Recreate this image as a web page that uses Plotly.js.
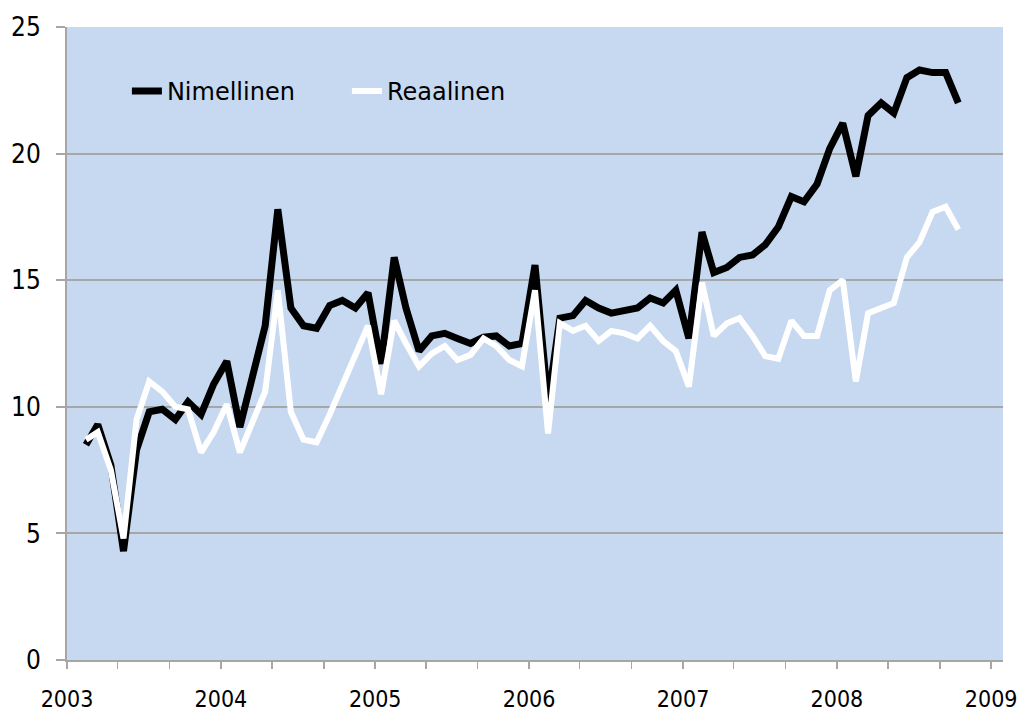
<!DOCTYPE html>
<html>
<head>
<meta charset="utf-8">
<script src="https://cdn.plot.ly/plotly-3.0.1.min.js"></script>
<style>
html,body{margin:0;padding:0;background:#ffffff;}
#chart{width:1025px;height:713px;}
</style>
</head>
<body>
<div id="chart"></div>
<script>
// Monthly observations, Feb 2003 .. Oct 2008
var startYear = 2003, startMonth = 2, nPoints = 69;
var nimellinen = [
  8.5, 9.3, 7.7, 4.3, 8.3, 9.8, 9.9, 9.5, 10.2, 9.7, 10.9,
  11.8, 9.2, 11.2, 13.2, 17.8, 13.9, 13.2, 13.1, 14.0, 14.2, 13.9, 14.5,
  11.7, 15.9, 13.9, 12.2, 12.8, 12.9, 12.7, 12.5, 12.75, 12.8, 12.4, 12.5,
  15.6, 10.2, 13.5, 13.6, 14.2, 13.9, 13.7, 13.8, 13.9, 14.3, 14.1, 14.6,
  12.7, 16.9, 15.3, 15.5, 15.9, 16.0, 16.4, 17.1, 18.3, 18.1, 18.8, 20.2,
  21.2, 19.1, 21.5, 22.0, 21.6, 23.0, 23.3, 23.2, 23.2, 22.0
];
var reaalinen = [
  8.7, 9.0, 7.5, 4.8, 9.5, 11.0, 10.6, 10.0, 9.9, 8.2, 9.0,
  10.1, 8.2, 9.4, 10.6, 14.6, 9.8, 8.7, 8.6, 9.7, 10.9, 12.0, 13.2,
  10.5, 13.4, 12.5, 11.6, 12.1, 12.4, 11.85, 12.05, 12.7, 12.4, 11.85, 11.6,
  14.6, 8.95, 13.3, 13.0, 13.2, 12.6, 13.0, 12.9, 12.7, 13.2, 12.6, 12.2,
  10.8, 14.9, 12.8, 13.3, 13.5, 12.8, 12.0, 11.9, 13.4, 12.8, 12.8, 14.6,
  15.0, 11.0, 13.7, 13.9, 14.1, 15.9, 16.5, 17.7, 17.9, 17.0
];
var yearTicks = ['2003','2004','2005','2006','2007','2008','2009'];
var seriesNames = ['Nimellinen', 'Reaalinen'];

// mid-month dates
var months = [];
for (var k = 0; k < nPoints; k++) {
  var m0 = startMonth - 1 + k;
  var y = startYear + Math.floor(m0 / 12);
  var m = (m0 % 12) + 1;
  months.push(y + '-' + (m < 10 ? '0' + m : m) + '-15');
}

var FONT = '"DejaVu Sans Condensed", "DejaVu Sans", sans-serif';
var LFONT = '"DejaVu Sans", sans-serif';
var GRID = '#a6a6a6';

var traces = [
  {x: months, y: nimellinen, name: seriesNames[0], type: 'scatter', mode: 'lines',
   line: {color: '#000000', width: 7, shape: 'linear'}},
  {x: months, y: reaalinen, name: seriesNames[1], type: 'scatter', mode: 'lines',
   line: {color: '#ffffff', width: 6, shape: 'linear'}}
];

var layout = {
  width: 1025, height: 713,
  margin: {l: 67, r: 22, t: 27, b: 53},
  paper_bgcolor: '#ffffff',
  plot_bgcolor: '#c6d9f0',
  showlegend: true,
  legend: {
    orientation: 'h', x: 0.064, y: 0.934, xanchor: 'left', yanchor: 'top',
    bgcolor: 'rgba(0,0,0,0)', font: {family: LFONT, size: 24, color: '#000000'},
    entrywidth: 175, traceorder: 'normal'
  },
  xaxis: {
    type: 'date',
    range: ['2003-01-01', '2009-01-29'],
    tickmode: 'array',
    tickvals: yearTicks.map(function (t) { return t + '-01-01'; }),
    ticktext: yearTicks,
    ticks: 'outside', ticklen: 7, tickwidth: 1.5, tickcolor: GRID,
    minor: {dtick: 'M4', tick0: '2003-01-01', ticks: 'outside', ticklen: 7, tickwidth: 1.5, tickcolor: GRID, showgrid: false},
    showgrid: false, zeroline: false,
    showline: true, linecolor: GRID, linewidth: 2,
    ticklabelstandoff: 10,
    tickfont: {family: FONT, size: 23, color: '#000000'},
    fixedrange: true
  },
  yaxis: {
    range: [0, 25],
    tickvals: [0, 5, 10, 15, 20, 25],
    ticks: 'outside', ticklen: 9, tickwidth: 2, tickcolor: GRID,
    showgrid: true, gridcolor: GRID, gridwidth: 2,
    zeroline: false,
    showline: true, linecolor: GRID, linewidth: 2,
    ticklabelstandoff: 10,
    tickfont: {family: FONT, size: 26, color: '#000000'},
    fixedrange: true
  }
};

Plotly.newPlot('chart', traces, layout, {displayModeBar: false, staticPlot: true});
</script>
</body>
</html>
